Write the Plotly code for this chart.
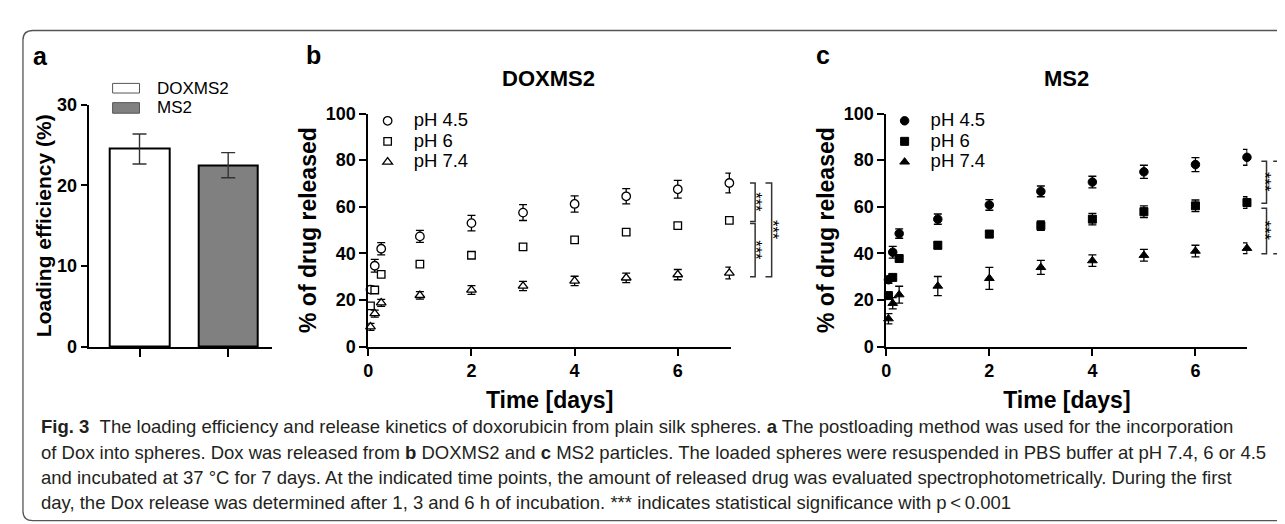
import plotly.graph_objects as go

W, H = 1285, 524

# ---------------- data ----------------
# panel a: loading efficiency
a_groups = ["DOXMS2", "MS2"]
a_pos = [0, 1]
a_values = [24.5, 22.5]
a_errors = [1.85, 1.55]
a_colors = ["#ffffff", "#808080"]

# panels b/c: release kinetics (time in days: 1 h, 3 h, 6 h, then 1..7 d)
time_days = [0.042, 0.125, 0.25, 1, 2, 3, 4, 5, 6, 7]
ph_labels = ["pH 4.5", "pH 6", "pH 7.4"]

b_ph45 = [24.5, 34.7, 42.0, 47.3, 53.0, 57.5, 61.2, 64.5, 67.5, 70.2]
b_ph45_err = [1.5, 2.7, 2.6, 2.6, 3.3, 3.4, 3.5, 3.3, 3.8, 4.2]
b_ph6 = [17.5, 24.3, 31.0, 35.4, 39.2, 42.8, 45.8, 49.1, 51.9, 54.2]
b_ph6_err = [1.0, 1.0, 1.0, 1.0, 1.2, 1.2, 1.2, 1.2, 1.2, 1.2]
b_ph74 = [8.5, 14.2, 18.8, 22.0, 24.3, 26.0, 28.2, 29.5, 30.9, 31.6]
b_ph74_err = [1.5, 1.5, 1.5, 1.6, 1.9, 2.0, 2.0, 2.0, 2.2, 2.5]

c_ph45 = [28.7, 40.5, 48.5, 54.7, 60.8, 66.6, 70.6, 75.0, 78.1, 81.2]
c_ph45_err = [1.5, 2.5, 2.0, 2.2, 2.3, 2.3, 2.5, 2.8, 3.0, 3.4]
c_ph6 = [21.9, 29.7, 37.8, 43.5, 48.3, 51.9, 54.7, 57.9, 60.4, 61.8]
c_ph6_err = [1.0, 1.0, 1.0, 1.5, 1.5, 2.0, 2.5, 2.5, 2.5, 2.5]
c_ph74 = [12.0, 18.6, 22.3, 26.0, 29.3, 34.0, 36.9, 39.2, 41.0, 42.2]
c_ph74_err = [2.2, 2.4, 3.6, 4.1, 4.7, 3.0, 2.5, 2.5, 2.5, 2.3]

# significance brackets: (x_arm, x_spine, y_top, y_bottom) in days / %
b_brackets = [(7.40, 7.50, 70.2, 53.7), (7.40, 7.50, 52.8, 30.0), (7.70, 7.82, 70.2, 30.0)]
b_stars = [(7.63, 62.0), (7.63, 41.4), (7.96, 50.1)]
c_brackets = [(7.28, 7.38, 79.5, 61.5), (7.28, 7.38, 59.4, 39.9), (7.51, 7.63, 79.5, 39.9)]
c_stars = [(7.47, 70.5), (7.47, 49.7), (7.70, 59.7)]

caption_lines = [
    "<b>Fig. 3</b>\u00a0\u00a0The loading efficiency and release kinetics of doxorubicin from plain silk spheres. <b>a</b> The postloading method was used for the incorporation",
    "of Dox into spheres. Dox was released from <b>b</b> DOXMS2 and <b>c</b> MS2 particles. The loaded spheres were resuspended in PBS buffer at pH 7.4, 6 or 4.5",
    "and incubated at 37 \u00b0C for 7 days. At the indicated time points, the amount of released drug was evaluated spectrophotometrically. During the first",
    "day, the Dox release was determined after 1, 3 and 6 h of incubation. *** indicates statistical significance with p\u2009<\u20090.001",
]

# ---------------- helpers (layout positions in px -> paper) ----------------
def fx(p):
    return p / W


def fy(p):
    return 1 - p / H


FONT = "Arial, Liberation Sans, sans-serif"
CAPFONT = "Liberation Sans, Arial, sans-serif"
LEG_TEXT = "<span style='font-size:18.5px'>{}</span>"

fig = go.Figure()

# panel a bars
fig.add_trace(go.Bar(
    x=a_pos, y=a_values, width=0.674, name="loading",
    marker=dict(color=a_colors, line=dict(color="black", width=2)),
    error_y=dict(type="data", array=a_errors, color="#333333", thickness=1.4, width=7),
    xaxis="x", yaxis="y", showlegend=False,
))

# panel b (open markers)
b_series = [(b_ph45, b_ph45_err, "circle", 8.5), (b_ph6, b_ph6_err, "square", 7.5),
            (b_ph74, b_ph74_err, "triangle-up", 8.5)]
for (vals, err, sym, sz), lab in zip(b_series, ph_labels):
    fig.add_trace(go.Scatter(
        x=time_days, y=vals, mode="markers", name=LEG_TEXT.format(lab), legend="legend2",
        marker=dict(symbol=sym, size=sz, color="white", line=dict(color="black", width=1.3)),
        error_y=dict(type="data", array=err, color="black", thickness=1.3, width=4),
        xaxis="x2", yaxis="y2", cliponaxis=False,
    ))

# panel c (filled markers)
c_series = [(c_ph45, c_ph45_err, "circle", 8.5), (c_ph6, c_ph6_err, "square", 8),
            (c_ph74, c_ph74_err, "triangle-up", 8.5)]
for (vals, err, sym, sz), lab in zip(c_series, ph_labels):
    fig.add_trace(go.Scatter(
        x=time_days, y=vals, mode="markers", name=LEG_TEXT.format(lab), legend="legend3",
        marker=dict(symbol=sym, size=sz, color="black", line=dict(color="black", width=1)),
        error_y=dict(type="data", array=err, color="black", thickness=1.3, width=4),
        xaxis="x3", yaxis="y3", cliponaxis=False,
    ))

# significance brackets
for br_list, xa, ya in [(b_brackets, "x4", "y2"), (c_brackets, "x5", "y3")]:
    for xarm, xsp, yt, yb in br_list:
        fig.add_trace(go.Scatter(
            x=[xarm, xsp, xsp, xarm], y=[yt, yt, yb, yb], mode="lines",
            line=dict(color="#333333", width=1.5), xaxis=xa, yaxis=ya,
            showlegend=False, hoverinfo="skip",
        ))

annotations = []
for st_list, xa, ya in [(b_stars, "x4", "y2"), (c_stars, "x5", "y3")]:
    for sx, sy in st_list:
        annotations.append(dict(
            x=sx, y=sy, xref=xa, yref=ya, text="***", showarrow=False, textangle=90, xshift=-6,
            font=dict(family=FONT, size=16.5, color="#000000"), xanchor="center", yanchor="middle",
        ))

axis_common = dict(showline=True, linewidth=2, linecolor="black", ticks="outside", tickwidth=2,
                   tickcolor="black", showgrid=False, zeroline=False, fixedrange=True,
                   tickfont=dict(family=FONT, size=18, color="black", weight="bold"))
title_font = dict(family=FONT, size=23, color="black", weight="bold")

yb0, yb1 = fy(341.7), fy(99.3)
legend_common = dict(xanchor="left", yanchor="top", bgcolor="rgba(0,0,0,0)",
                     font=dict(family=FONT, size=13.5, color="black"), itemwidth=42, borderwidth=0)

fig.update_layout(
    width=W, height=H, margin=dict(l=0, r=0, t=0, b=0),
    paper_bgcolor="white", plot_bgcolor="rgba(0,0,0,0)",
    bargap=0,
    xaxis=dict(domain=[fx(76), fx(260)], range=[-0.573, 1.494], anchor="y",
               tickvals=a_pos, ticktext=["", ""], ticklen=8, **axis_common),
    yaxis=dict(domain=[fy(342), fy(90)], range=[0, 30], anchor="x", tickvals=[0, 10, 20, 30],
               ticklen=6, title=dict(text="Loading efficiency (%)", font=dict(family=FONT, size=21, color="black", weight="bold"), standoff=0),
               **axis_common),
    xaxis2=dict(domain=[fx(356.7), fx(720.7)], range=[0, 7.03], anchor="y2", tickvals=[0, 2, 4, 6],
                ticklen=7, title=dict(text="Time [days]", font=title_font, standoff=12), **axis_common),
    yaxis2=dict(domain=[yb0, yb1], range=[0, 100], anchor="x2", tickvals=[0, 20, 40, 60, 80, 100],
                ticklen=7, title=dict(text="% of drug released", font=title_font, standoff=3), **axis_common),
    xaxis3=dict(domain=[fx(876.7), fx(1239.3)], range=[0, 7.01], anchor="y3", tickvals=[0, 2, 4, 6],
                ticklen=7, title=dict(text="Time [days]", font=title_font, standoff=12), **axis_common),
    yaxis3=dict(domain=[yb0, yb1], range=[0, 100], anchor="x3", tickvals=[0, 20, 40, 60, 80, 100],
                ticklen=7, title=dict(text="% of drug released", font=title_font, standoff=3), **axis_common),
    xaxis4=dict(domain=[fx(720.7), fx(800)], range=[7.03, 7.03 + 79.3 / 51.8], anchor="y2",
                visible=False, fixedrange=True),
    xaxis5=dict(domain=[fx(1239.3), 1.0], range=[7.01, 7.01 + 45.7 / 51.7], anchor="y3",
                visible=False, fixedrange=True),
    legend2=dict(x=fx(350), y=fy(91), **legend_common),
    legend3=dict(x=fx(869), y=fy(91), **legend_common),
)

# panel labels and titles
for lab, px_, py_ in [("a", 28, 40), ("b", 302, 38), ("c", 813, 38)]:
    annotations.append(dict(x=fx(px_), y=fy(py_), xref="paper", yref="paper", text=lab, showarrow=False,
                            font=dict(family=FONT, size=25, color="black", weight="bold"),
                            xanchor="center", yanchor="middle"))
for t, px_ in [("DOXMS2", 538), ("MS2", 1058)]:
    annotations.append(dict(x=fx(px_), y=fy(63), xref="paper", yref="paper", text=t, showarrow=False,
                            font=dict(family=FONT, size=22, color="black", weight="bold"),
                            xanchor="center", yanchor="middle"))

# panel a legend (boxes + text)
shapes = []
for (lab, col), (y0, y1) in zip(zip(a_groups, a_colors), [(68, 78), (88, 99)]):
    shapes.append(dict(type="rect", xref="paper", yref="paper", x0=fx(100), x1=fx(127), y0=fy(y1), y1=fy(y0),
                       line=dict(color="#555555", width=1), fillcolor=col))
    annotations.append(dict(x=fx(143), y=fy((y0 + y1) / 2), xref="paper", yref="paper", text=lab,
                            showarrow=False, xanchor="left", yanchor="middle",
                            font=dict(family=FONT, size=17, color="black")))

# caption
for i, line in enumerate(caption_lines):
    annotations.append(dict(x=fx(26), y=fy(425 + i * 26.4), xref="paper", yref="paper", text=line,
                            showarrow=False, xanchor="left", yanchor="middle",
                            font=dict(family=CAPFONT, size=18.5, color="#231f20")))

# rounded frame
r = 10
L, T, B, R = 10, 13, 522.5, 1300
path = (f"M {fx(R)},{fy(T)} L {fx(L + r)},{fy(T)} Q {fx(L)},{fy(T)} {fx(L)},{fy(T + r)} "
        f"L {fx(L)},{fy(B - r)} Q {fx(L)},{fy(B)} {fx(L + r)},{fy(B)} L {fx(R)},{fy(B)}")
shapes.append(dict(type="path", xref="paper", yref="paper", path=path,
                   line=dict(color="#555555", width=1.3)))

fig.update_layout(annotations=annotations, shapes=shapes)

fig.write_html("out.html")
